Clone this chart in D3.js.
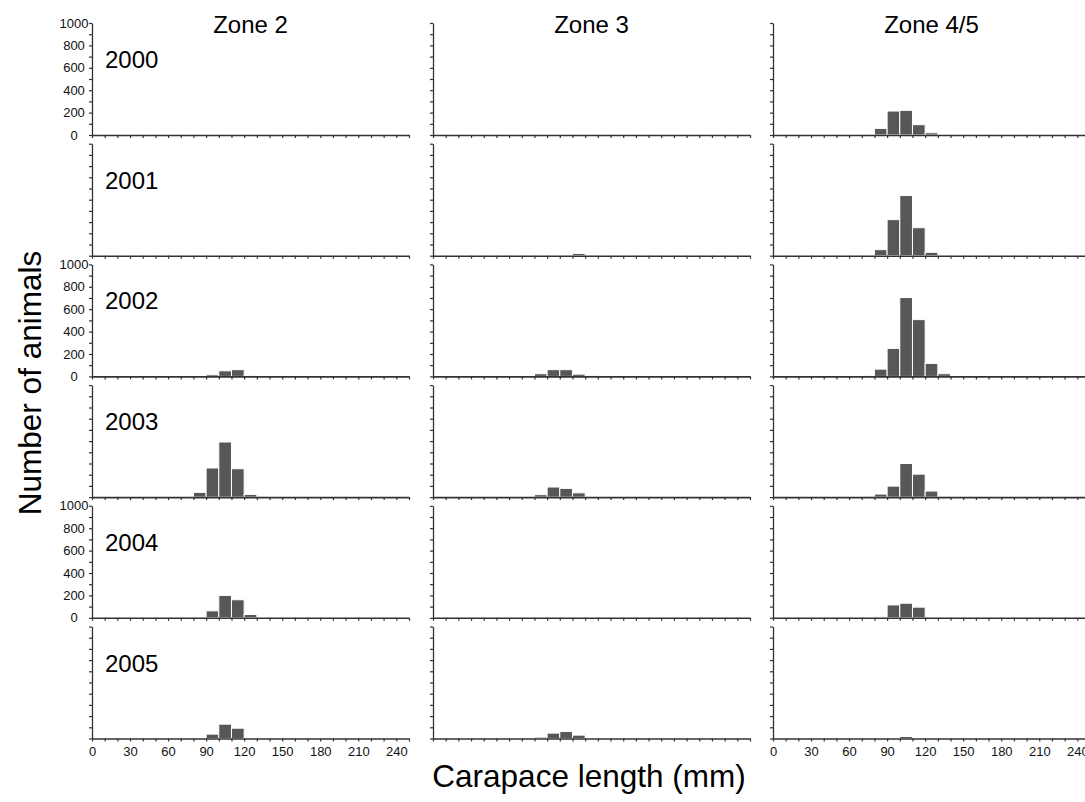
<!DOCTYPE html>
<html>
<head>
<meta charset="utf-8">
<script src="https://cdn.jsdelivr.net/npm/d3@7"></script>
<style>
  body { margin: 0; background: #fff; }
  svg { display: block; font-family: "Liberation Sans", Arial, sans-serif; }
  .axis path, .axis line { stroke: #333; }
  .axis text { fill: #111; font-size: 13px; font-family: "Liberation Sans", Arial, sans-serif; }
</style>
</head>
<body>
<svg></svg>
<script>
// size classes (lower edge of 10 mm carapace length bins)
var bins = [60, 70, 80, 90, 100, 110, 120, 130, 140];
var years = ['2000', '2001', '2002', '2003', '2004', '2005'];
var zones = ['Zone 2', 'Zone 3', 'Zone 4/5'];

// counts per year (rows) for each zone, one value per bin
var zone2 = [
  [0, 0, 0, 0, 0, 0, 0, 0, 0],
  [0, 0, 0, 0, 0, 0, 0, 0, 0],
  [0, 0, 3, 15, 50, 60, 5, 2, 0],
  [0, 0, 42, 260, 492, 253, 24, 3, 0],
  [0, 0, 3, 62, 200, 161, 30, 0, 0],
  [0, 0, 0, 39, 128, 92, 3, 0, 0]
];
var zone3 = [
  [0, 0, 0, 0, 0, 0, 0, 0, 0],
  [0, 0, 0, 0, 3, 20, 3, 0, 0],
  [0, 0, 24, 60, 60, 20, 5, 0, 0],
  [0, 0, 22, 90, 78, 38, 0, 0, 0],
  [0, 0, 0, 5, 3, 5, 0, 0, 0],
  [0, 0, 12, 48, 62, 30, 0, 0, 0]
];
var zone45 = [
  [0, 3, 59, 214, 220, 92, 20, 0, 0],
  [0, 3, 54, 322, 537, 250, 30, 0, 0],
  [0, 5, 65, 250, 704, 507, 116, 24, 3],
  [0, 3, 27, 98, 300, 205, 54, 3, 0],
  [0, 0, 8, 115, 130, 95, 0, 0, 0],
  [0, 0, 0, 3, 18, 3, 0, 0, 0]
];
var counts = [zone2, zone3, zone45];

var xTicks = [0, 10, 20, 30, 40, 50, 60, 70, 80, 90, 100, 110, 120, 130, 140, 150, 160, 170, 180, 190, 200, 210, 220, 230, 240, 250];
var xTickLabels = [0, 30, 60, 90, 120, 150, 180, 210, 240];
var yTicks = [0, 100, 200, 300, 400, 500, 600, 700, 800, 900, 1000];
var yTickLabels = [0, 200, 400, 600, 800, 1000];

var width = 1085;
var height = 802;
var svg = d3.select('svg')
            .attr('width', width)
            .attr('height', height);

var colLeft = [92, 433, 773];
var panelW = 317;
var panelH = 112;
var rowStep = 120.7;
var firstBase = 135;

for (var c = 0; c < zones.length; c++) {
  for (var r = 0; r < years.length; r++) {
    var base = firstBase + r * rowStep;
    var x = d3.scaleLinear().domain([0, 250]).range([colLeft[c], colLeft[c] + panelW]);
    var y = d3.scaleLinear().domain([0, 1000]).range([base, base - panelH]);

    var data = bins.map(function(b, i) { return {bin: b, n: counts[c][r][i]}; })
                   .filter(function(d) { return d.n > 0; });

    var g = svg.append('g');
    g.selectAll('rect')
      .data(data)
      .enter()
      .append('rect')
      .attr('x', function(d) { return x(d.bin); })
      .attr('width', function(d) { return x(d.bin + 10) - x(d.bin); })
      .attr('y', function(d) { return y(d.n); })
      .attr('height', function(d) { return base - y(d.n); })
      .attr('fill', '#575757')
      .attr('stroke', '#fff')
      .attr('stroke-width', 1);

    var showX = (r === years.length - 1) && c !== 1;
    var showY = (c === 0) && (r % 2 === 0);

    //x-axis
    g.append('g')
      .attr('class', 'axis')
      .attr('transform', 'translate(0,' + base + ')')
      .call(d3.axisBottom(x)
              .tickValues(xTicks)
              .tickSize(3)
              .tickSizeOuter(0)
              .tickPadding(5)
              .tickFormat(function(v) { return showX && xTickLabels.includes(v) ? v : ''; }))
      .call(function(a) {
        a.select('.domain').attr('stroke-width', 1.6);
        a.selectAll('.tick line').attr('stroke-width', 1.2);
      });

    //y-axis, labels centred in the left margin
    g.append('g')
      .attr('class', 'axis')
      .attr('transform', 'translate(' + colLeft[c] + ',0)')
      .call(d3.axisLeft(y)
              .tickValues(yTicks)
              .tickSize(3)
              .tickSizeOuter(0)
              .tickFormat(function(v) { return showY && yTickLabels.includes(v) ? v : ''; }))
      .call(function(a) {
        a.select('.domain').attr('stroke-width', 1.3);
        a.selectAll('.tick line').attr('stroke-width', 1.2);
        a.selectAll('.tick text')
          .attr('text-anchor', 'middle')
          .attr('x', -18);
      });

    if (c === 0) {
      svg.append('text')
        .attr('x', 105)
        .attr('y', base - panelH + 45)
        .attr('font-size', '24px')
        .attr('fill', '#000')
        .text(years[r]);
    }
  }

  svg.append('text')
    .attr('x', colLeft[c] + panelW / 2)
    .attr('y', 33)
    .attr('text-anchor', 'middle')
    .attr('font-size', '24px')
    .attr('fill', '#000')
    .text(zones[c]);
}

svg.append('text')
  .attr('text-anchor', 'middle')
  .attr('transform', 'translate(41,383) rotate(-90)')
  .attr('font-size', '31.5px')
  .attr('fill', '#000')
  .text('Number of animals');

svg.append('text')
  .attr('x', 589)
  .attr('y', 787)
  .attr('text-anchor', 'middle')
  .attr('font-size', '31.5px')
  .attr('fill', '#000')
  .text('Carapace length (mm)');
</script>
</body>
</html>
